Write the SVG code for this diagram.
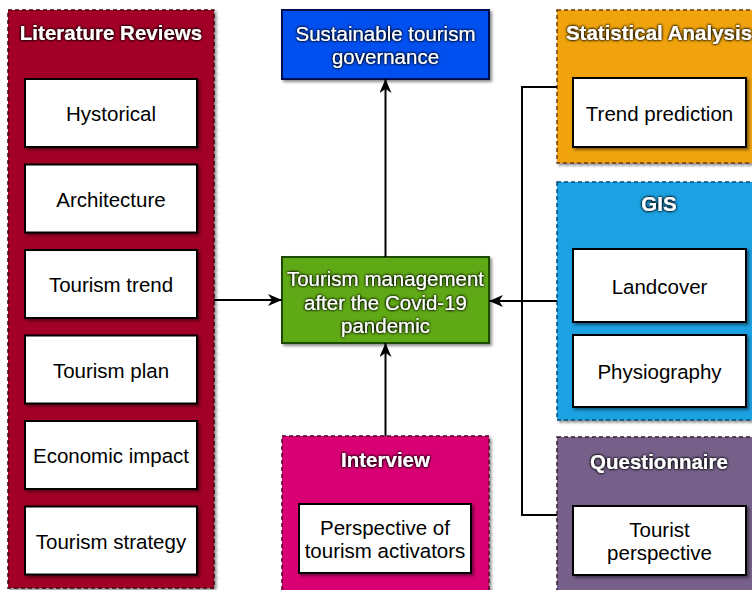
<svg xmlns="http://www.w3.org/2000/svg" width="752" height="590" viewBox="0 0 752 590">
  <defs>
    <filter id="shadow" x="-10%" y="-10%" width="130%" height="130%">
      <feDropShadow dx="2" dy="2" stdDeviation="1.5" flood-color="#000" flood-opacity="0.45"/>
    </filter>
    <filter id="halo" x="-20%" y="-40%" width="140%" height="180%">
      <feGaussianBlur in="SourceAlpha" stdDeviation="1.7" result="b"/>
      <feComponentTransfer in="b" result="bb">
        <feFuncA type="linear" slope="2.6"/>
      </feComponentTransfer>
      <feFlood flood-color="#000" flood-opacity="0.7"/>
      <feComposite in2="bb" operator="in" result="glow"/>
      <feMerge>
        <feMergeNode in="glow"/>
        <feMergeNode in="SourceGraphic"/>
      </feMerge>
    </filter>
    <marker id="arrow" viewBox="0 0 14 12" refX="14" refY="6" markerWidth="14" markerHeight="12" markerUnits="userSpaceOnUse" orient="auto">
      <path d="M0,0 L14,6 L0,12 L4,6 Z" fill="#000"/>
    </marker>
  </defs>
  <style>
    .group { stroke-width: 1.5; stroke-dasharray: 4 3; filter: url(#shadow); }
    .item { fill: #fff; stroke: #000; stroke-width: 2; filter: url(#shadow); }
    .solid { stroke-width: 2; filter: url(#shadow); }
    .title { font-family: "Liberation Sans", Arial, sans-serif; font-size: 20.5px; font-weight: bold; fill: #fff; text-anchor: middle; filter: url(#halo); }
    .label { font-family: "Liberation Sans", Arial, sans-serif; font-size: 20.5px; fill: #000; text-anchor: middle; }
    .light { font-family: "Liberation Sans", Arial, sans-serif; font-size: 20.5px; fill: #fff; text-anchor: middle; filter: url(#halo); }
    .edge { fill: none; stroke: #000; stroke-width: 2; }
  </style>

  <rect width="752" height="590" fill="#fff"/>

  <!-- Literature Reviews -->
  <g id="literature-reviews">
    <rect class="group" x="8" y="10" width="206" height="578" fill="#a20025" stroke="#3f0000"/>
    <text class="title" x="111" y="40">Literature Reviews</text>
    <rect class="item" x="25" y="79" width="172" height="68"/>
    <text class="label" x="111" y="121">Hystorical</text>
    <rect class="item" x="25" y="164.5" width="172" height="68"/>
    <text class="label" x="111" y="206.5">Architecture</text>
    <rect class="item" x="25" y="250" width="172" height="68"/>
    <text class="label" x="111" y="292">Tourism trend</text>
    <rect class="item" x="25" y="335.5" width="172" height="68"/>
    <text class="label" x="111" y="377.5">Tourism plan</text>
    <rect class="item" x="25" y="421" width="172" height="68"/>
    <text class="label" x="111" y="463">Economic impact</text>
    <rect class="item" x="25" y="506.5" width="172" height="68"/>
    <text class="label" x="111" y="548.5">Tourism strategy</text>
  </g>

  <!-- Sustainable tourism governance -->
  <g id="governance">
    <rect class="solid" x="282" y="10" width="207" height="69" fill="#0050ef" stroke="#000a50"/>
    <text class="light" x="385.5" y="41">Sustainable tourism</text>
    <text class="light" x="385.5" y="64">governance</text>
  </g>

  <!-- Central node -->
  <g id="tourism-management">
    <rect class="solid" x="282" y="257" width="207" height="86" fill="#60a917" stroke="#1d4c00"/>
    <text class="light" x="385.5" y="286">Tourism management</text>
    <text class="light" x="385.5" y="310">after the Covid-19</text>
    <text class="light" x="385.5" y="333">pandemic</text>
  </g>

  <!-- Interview -->
  <g id="interview">
    <rect class="group" x="282" y="436" width="207" height="164" fill="#d80073" stroke="#50002a"/>
    <text class="title" x="385.5" y="467">Interview</text>
    <rect class="item" x="299" y="504" width="172" height="69"/>
    <text class="label" x="385" y="535">Perspective of</text>
    <text class="label" x="385" y="558">tourism activators</text>
  </g>

  <!-- Statistical Analysis -->
  <g id="statistical-analysis">
    <rect class="group" x="557" y="10" width="205" height="153" fill="#f0a30a" stroke="#6f3a00"/>
    <text class="title" x="659" y="40">Statistical Analysis</text>
    <rect class="item" x="573" y="78" width="173" height="69"/>
    <text class="label" x="659.5" y="121">Trend prediction</text>
  </g>

  <!-- GIS -->
  <g id="gis">
    <rect class="group" x="557" y="182" width="205" height="238" fill="#1ba1e2" stroke="#004f7f"/>
    <text class="title" x="659" y="211">GIS</text>
    <rect class="item" x="573" y="249" width="173" height="73"/>
    <text class="label" x="659.5" y="294">Landcover</text>
    <rect class="item" x="573" y="335" width="173" height="72"/>
    <text class="label" x="659.5" y="379">Physiography</text>
  </g>

  <!-- Questionnaire -->
  <g id="questionnaire">
    <rect class="group" x="557" y="437" width="205" height="163" fill="#76608a" stroke="#2f1f3d"/>
    <text class="title" x="659" y="469">Questionnaire</text>
    <rect class="item" x="573" y="506" width="173" height="69"/>
    <text class="label" x="659.5" y="537">Tourist</text>
    <text class="label" x="659.5" y="560">perspective</text>
  </g>

  <!-- Connectors -->
  <g id="connectors">
    <path class="edge" d="M214,300 H282" marker-end="url(#arrow)"/>
    <path class="edge" d="M385.5,257 V79" marker-end="url(#arrow)"/>
    <path class="edge" d="M385.5,436 V343" marker-end="url(#arrow)"/>
    <path class="edge" d="M557,301 H489" marker-end="url(#arrow)"/>
    <path class="edge" d="M557,87 H522 V515 H557"/>
  </g>
</svg>
